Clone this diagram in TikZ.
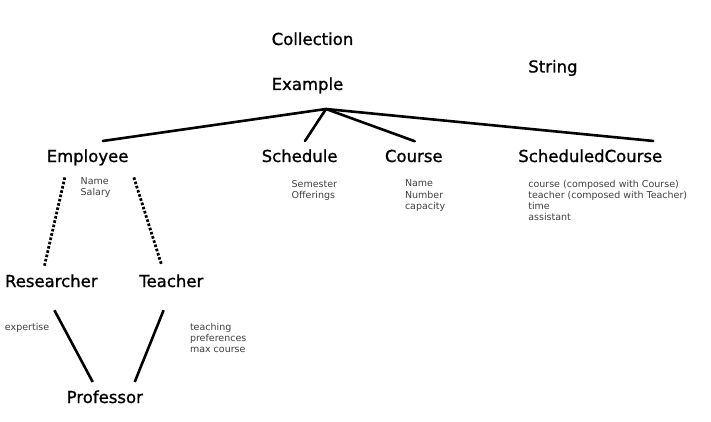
\documentclass[tikz,border=0pt]{standalone}
\usepackage{fontspec}
\setmainfont{DejaVu Sans}
\newfontfamily\headfont[FakeBold=1.1]{DejaVu Sans}

\begin{document}
\begin{tikzpicture}[x=1pt,y=-1pt,
    cls/.style={inner sep=0pt,outer sep=0pt,anchor=base west,font=\headfont\fontsize{16.5}{18}\selectfont},
    attr/.style={inner sep=0pt,outer sep=0pt,anchor=north west,align=left,text=black!75,
      font=\fontsize{9.5}{11.1}\selectfont},
    link/.style={line width=2.6pt,line cap=round},
    isa/.style={line width=2.8pt,dash pattern=on 2.6pt off 1.8pt}]
  \useasboundingbox (0,0) rectangle (711,422);
  % class names
  \node[cls] (coll) at (271.7,45) {Collection};
  \node[cls] (ex) at (271.7,90) {Example};
  \node[cls] (str) at (528.3,72.5) {String};
  \node[cls] (emp) at (46.7,162) {Employee};
  \node[cls] (sch) at (261.7,162) {Schedule};
  \node[cls] (crs) at (385,162) {Course};
  \node[cls] (scc) at (518.3,162) {ScheduledCourse};
  \node[cls] (res) at (5,287) {Researcher};
  \node[cls] (tea) at (139.3,287) {Teacher};
  \node[cls] (prof) at (66.7,403) {Professor};
  % attributes
  \node[attr] (empa) at (80.7,177.7) {Name\\Salary};
  \node[attr] (scha) at (291.7,180) {Semester\\Offerings};
  \node[attr] (crsa) at (405,180) {Name\\Number\\capacity};
  \node[attr] (scca) at (528.3,180) {course (composed with Course)\\teacher (composed with Teacher)\\time\\assistant};
  \node[attr] (resa) at (5,323.3) {expertise};
  \node[attr] (teaa) at (190,323.3) {teaching\\preferences\\max course};
  % links
  \coordinate (hub) at (326,109);
  \draw[link] ([shift={(15.3,-8.5)}]emp.north) -- (hub);
  \draw[link] ([shift={(5.4,-8.5)}]sch.north) -- (hub);
  \draw[link] ([shift={(1,-8.5)}]crs.north) -- (hub);
  \draw[link] ([shift={(-9,-8.5)}]scc.north east) -- (hub);
  \draw[isa] ([shift={(-22.7,12)}]emp.south) -- ([shift={(-6.9,-8.5)}]res.north);
  \draw[isa] ([shift={(46.3,12)}]emp.south) -- ([shift={(-9.7,-9.5)}]tea.north);
  \draw[link,line cap=butt] ([shift={(3.1,23)}]res.south) -- ([shift={(-12.1,-8.5)}]prof.north);
  \draw[link,line cap=butt] ([shift={(-7.7,23)}]tea.south) -- ([shift={(29.9,-8.5)}]prof.north);
\end{tikzpicture}
\end{document}
